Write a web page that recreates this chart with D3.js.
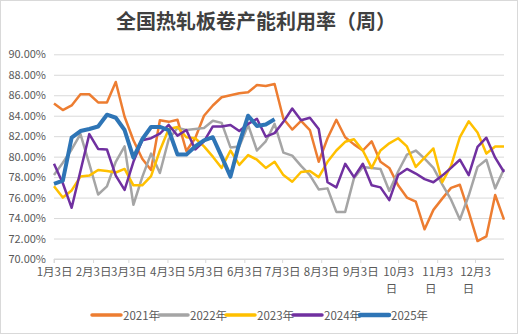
<!DOCTYPE html>
<html>
<head>
<meta charset="utf-8">
<script src="https://cdn.jsdelivr.net/npm/d3@7"></script>
<style>
  body { margin: 0; background: #fff; }
  svg { display: block; }
  text { font-family: "Noto Sans CJK SC", "Noto Sans", sans-serif; }
</style>
</head>
<body>
<div id="chart"></div>
<script>
// weekly capacity utilisation (%), one value per week starting Jan 3
const years = ["2021年", "2022年", "2023年", "2024年", "2025年"];
const colors = ["#ed7d31", "#a5a5a5", "#ffc000", "#7030a0", "#2e75b6"];

const y2021 = [85.2, 84.55, 85.0, 86.1, 86.1, 85.3, 85.3, 87.3, 83.9, 81.6, 79.8, 78.7, 83.55, 83.4, 83.6, 80.55,
  81.8, 84.0, 85.0, 85.8, 86.0, 86.2, 86.3, 87.0, 86.9, 87.1, 83.7, 82.65, 83.5, 82.6, 79.5, 81.8, 83.6, 81.9,
  81.2, 80.6, 81.5, 79.5, 78.9, 77.2, 76.0, 75.6, 72.9, 74.8, 75.9, 76.95, 77.25, 74.6, 71.75, 72.2, 76.25, 73.85];
const y2022 = [78.2, 79.4, 80.7, 82.2, 79.3, 76.3, 77.1, 79.5, 81.0, 75.3, 78.0, 80.3, 78.4, 81.7, 82.8, 82.6,
  82.7, 82.8, 83.5, 83.3, 80.9, 81.0, 83.1, 80.6, 81.5, 83.2, 80.4, 80.1, 79.1, 78.2, 76.8, 76.9, 74.6, 74.6,
  77.9, 79.0, 78.9, 78.8, 76.65, 78.55, 80.2, 80.6, 79.8, 78.9, 77.3, 75.8, 73.85, 76.2, 79.0, 79.7, 76.9, 78.8];
const y2023 = [77.1, 76.0, 76.7, 78.05, 78.15, 78.7, 78.6, 78.45, 78.8, 77.2, 77.2, 78.1, 80.6, 82.7, 82.9, 81.9,
  81.8, 81.0, 80.0, 78.9, 80.6, 79.2, 80.15, 79.7, 78.9, 79.5, 78.2, 77.55, 78.5, 78.6, 78.0, 79.5, 80.6, 81.45,
  81.7, 80.6, 78.9, 80.6, 81.3, 81.8, 81.0, 79.0, 79.9, 80.8, 77.5, 79.1, 81.9, 83.45, 82.35, 80.3, 81.0, 81.0];
const y2024 = [79.3, 77.4, 75.0, 78.6, 82.2, 80.75, 80.7, 78.15, 76.75, 79.5, 81.6, 81.8, 82.25, 83.1, 82.05, 82.6,
  80.7, 81.5, 82.95, 82.95, 83.1, 82.5, 83.2, 83.7, 81.95, 82.3, 83.4, 84.7, 83.55, 83.8, 82.7, 77.5, 77.0, 79.3,
  78.0, 79.3, 77.2, 77.0, 75.75, 78.2, 78.8, 78.35, 77.8, 77.5, 78.15, 78.9, 79.7, 78.2, 80.95, 81.85, 79.9, 78.5];
const y2025 = [77.35, 77.65, 81.85, 82.5, 82.7, 82.95, 84.1, 83.8, 82.6, 79.9, 81.7, 82.9, 82.9, 82.6, 80.2, 80.2,
  81.0, 81.6, 81.9, 80.0, 78.05, 81.3, 84.0, 83.0, 83.15, 83.65];
const seriesValues = [y2021, y2022, y2023, y2024, y2025];

const tickMonths = [1, 2, 3, 4, 5, 6, 7, 8, 9, 10, 11, 12];
const yTicks = [70, 72, 74, 76, 78, 80, 82, 84, 86, 88, 90];

const width = 520, height = 335;
const plot = { left: 54, right: 504, top: 54.3, bottom: 259 };

const start = new Date(2021, 0, 3);
const weeks = d3.range(52).map(i => d3.timeDay.offset(start, 7 * i));

const svg = d3.select("#chart").append("svg")
  .attr("width", width)
  .attr("height", height);

// outer frame
svg.append("rect")
  .attr("x", 0.5).attr("y", 0.5)
  .attr("width", 517).attr("height", 333)
  .attr("fill", "#fff")
  .attr("stroke", "#d9d9d9");

svg.append("text")
  .attr("x", 256).attr("y", 29)
  .attr("text-anchor", "middle")
  .attr("font-size", 20)
  .attr("font-weight", "bold")
  .attr("fill", "#404040")
  .text("全国热轧板卷产能利用率（周）");

const x = d3.scaleTime()
  .domain([weeks[0], weeks[weeks.length - 1]])
  .range([plot.left, plot.right]);

const y = d3.scaleLinear()
  .domain([70, 90])
  .range([plot.bottom, plot.top]);

// gridlines + y labels
const yAxis = d3.axisLeft(y)
  .tickValues(yTicks)
  .tickSize(-(plot.right - plot.left))
  .tickPadding(8)
  .tickFormat(d => d3.format(".2f")(d) + "%");

svg.append("g")
  .attr("transform", `translate(${plot.left},0)`)
  .call(yAxis)
  .call(g => g.select(".domain").remove())
  .call(g => g.selectAll(".tick line").attr("stroke", "#d9d9d9"))
  .call(g => g.selectAll(".tick text")
    .attr("font-family", "'Noto Sans CJK SC', sans-serif")
    .attr("font-size", 11)
    .attr("fill", "#595959"));

// x axis with month ticks
const tickDates = tickMonths.map(m => new Date(2021, m - 1, 3));
const xAxis = d3.axisBottom(x)
  .tickValues(tickDates)
  .tickSize(4)
  .tickPadding(4)
  .tickFormat(() => "");

const xg = svg.append("g")
  .attr("transform", `translate(0,${plot.bottom})`)
  .call(xAxis);
xg.select(".domain").attr("stroke", "#d9d9d9").attr("d", `M${plot.left},4V0H${plot.right}`);
xg.selectAll(".tick line").attr("stroke", "#d9d9d9");

xg.selectAll(".tick text")
  .attr("font-size", 11.5)
  .attr("fill", "#595959")
  .attr("y", 9)
  .each(function(d, i) {
    const m = tickMonths[i];
    const t = d3.select(this);
    if (m >= 10) {
      t.append("tspan").attr("x", 0).attr("dy", "0.71em").text(`${m}月3`);
      t.append("tspan").attr("x", -7).attr("dy", "1.45em").text("日");
    } else {
      t.append("tspan").attr("x", 0).attr("dy", "0.71em").text(`${m}月3日`);
    }
  });

// series lines
const line = d3.line()
  .x((d, i) => x(weeks[i]))
  .y(d => y(d));

svg.append("g")
  .selectAll("path")
  .data(seriesValues)
  .join("path")
  .attr("fill", "none")
  .attr("stroke", (d, i) => colors[i])
  .attr("stroke-width", (d, i) => i === 4 ? 4 : 2.5)
  .attr("stroke-linejoin", "round")
  .attr("d", line);

// legend
const legend = svg.append("g")
  .attr("transform", "translate(92,315)");

const item = legend.selectAll("g")
  .data(years)
  .join("g")
  .attr("transform", (d, i) => `translate(${i * 67},0)`);

item.append("line")
  .attr("x1", 0).attr("x2", 29)
  .attr("stroke", (d, i) => colors[i])
  .attr("stroke-width", (d, i) => i === 4 ? 4.5 : 3.5)
  .attr("stroke-linecap", "round");

item.append("text")
  .attr("x", 31).attr("y", 4.5)
  .attr("font-size", 11.5)
  .attr("fill", "#595959")
  .text(d => d);
</script>
</body>
</html>
